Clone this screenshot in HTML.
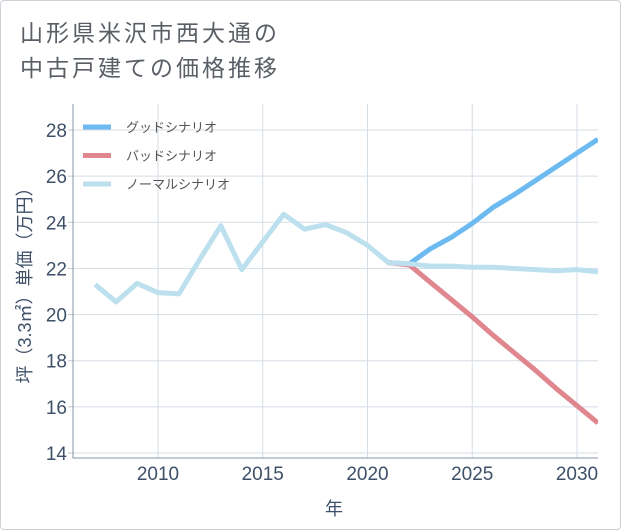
<!DOCTYPE html>
<html><head><meta charset="utf-8"><style>
body{margin:0;background:#fff;}
#card{position:absolute;left:0;top:0;width:619px;height:528px;border:1px solid #ccd2d8;border-radius:4px;background:#fff;overflow:hidden;}
#title{position:absolute;left:19px;top:15px;font:23px/35px "Liberation Sans","Noto Sans CJK JP",sans-serif;color:#5a5f66;letter-spacing:3px;}
svg text{font-family:"Liberation Sans","Noto Sans CJK JP",sans-serif;}
</style></head><body>
<div id="card">
<div id="title">山形県米沢市西大通の<br>中古戸建ての価格推移</div>
<svg id="chart" width="621" height="530" style="position:absolute;left:0;top:0"></svg>
</div>
<script>
const years = [2007,2008,2009,2010,2011,2012,2013,2014,2015,2016,2017,2018,2019,2020,2021,2022,2023,2024,2025,2026,2027,2028,2029,2030,2031];
const normalValues = [21.3,20.55,21.35,20.95,20.9,22.4,23.85,21.95,23.15,24.35,23.7,23.9,23.55,23.0,22.25,22.2,22.1,22.1,22.05,22.05,22.0,21.95,21.9,21.95,21.85];
const forecastYears = [2021,2022,2023,2024,2025,2026,2027,2028,2029,2030,2031];
const goodValues = [22.25,22.2,22.85,23.35,23.95,24.65,25.2,25.8,26.4,27.0,27.6];
const badValues = [22.25,22.15,21.4,20.65,19.9,19.1,18.35,17.6,16.8,16.05,15.3];
const xTicks = [2010,2015,2020,2025,2030];
const yTicks = [14,16,18,20,22,24,26,28];
const seriesNames = ["グッドシナリオ","バッドシナリオ","ノーマルシナリオ"];

const L=72,R=597,T=103,B=457;
const x = v => 157 + (v-2010)*20.95;
const y = v => 452 - (v-14)*23.07;
const svg = document.getElementById('chart');
const NS='http://www.w3.org/2000/svg';
function mk(tag,attrs){const e=document.createElementNS(NS,tag);for(const k in attrs)e.setAttribute(k,attrs[k]);svg.appendChild(e);return e;}

for(const t of yTicks){
  const g=mk('line',{x1:L,x2:R,y1:y(t),y2:y(t),stroke:'#d5dde6','stroke-width':1});
  
  
  const tk=mk('line',{x1:L-5,x2:L,y1:y(t),y2:y(t),stroke:'#c0c8d0','stroke-width':1});
  
  
  const lb=mk('text',{x:L-6,y:y(t)+7,'text-anchor':'end','font-size':19,fill:'#3e5068'});
  lb.textContent=t;
  
  
}
for(const t of xTicks){
  const g=mk('line',{x1:x(t),x2:x(t),y1:T,y2:B,stroke:'#d5dde6','stroke-width':1});
  
  
  const lb=mk('text',{x:x(t),y:B+22,'text-anchor':'middle','font-size':19,fill:'#3e5068'});
  lb.textContent=t;
  
  
}
const ax=mk('path',{d:`M${L},${T} V${B} H${R}`,stroke:'#8a96a3','stroke-width':1,fill:'none'});



function line(xs,vs,color,name){
  const p=mk('polyline',{points:xs.map((v,i)=>x(v)+','+y(vs[i])).join(' '),stroke:color,'stroke-width':5,fill:'none','stroke-linejoin':'round'});
  
  
}
const clip=mk('clipPath',{id:'c'});
const cr=document.createElementNS(NS,'rect');cr.setAttribute('x',L);cr.setAttribute('y',T);cr.setAttribute('width',R-L);cr.setAttribute('height',B-T);clip.appendChild(cr);
line(forecastYears,goodValues,'#6cbaf0','good-scenario-line');
line(forecastYears,badValues,'#e0868f','bad-scenario-line');
line(years,normalValues,'#bde0ee','normal-scenario-line');
svg.querySelectorAll('polyline').forEach(p=>p.setAttribute('clip-path','url(#c)'));

const colors=['#6cbaf0','#e0868f','#bde0ee'];
seriesNames.forEach((n,i)=>{
  const yy=126+i*28.5;
  const s=mk('line',{x1:82,x2:110,y1:yy,y2:yy,stroke:colors[i],'stroke-width':5});
  
  
  const t=mk('text',{x:125,y:yy+5,'font-size':13,fill:'#555'});
  t.textContent=n;
  
  
});

const yt=mk('text',{x:0,y:0,'font-size':18,fill:'#3e5068','text-anchor':'middle',transform:'translate(30,280) rotate(-90)'});
yt.textContent='坪（3.3㎡）単価（万円）';


const xt=mk('text',{x:333,y:514,'font-size':18,fill:'#3e5068','text-anchor':'middle'});
xt.textContent='年';


</script>
</body></html>
